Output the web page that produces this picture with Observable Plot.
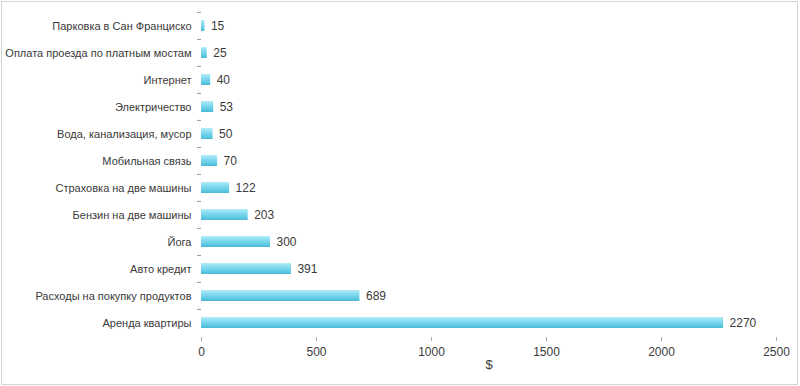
<!DOCTYPE html>
<html>
<head>
<meta charset="utf-8">
<script src="https://cdn.jsdelivr.net/npm/d3@7"></script>
<script src="https://cdn.jsdelivr.net/npm/@observablehq/plot@0.6"></script>
<style>
  html, body { margin: 0; padding: 0; background: #fff; }
  #wrap { position: relative; width: 800px; height: 386px; overflow: hidden; }
  #frame { position: absolute; left: 1px; top: 1px; width: 795px; height: 382px; border: 1px solid #d4d4d4; pointer-events: none; }
</style>
</head>
<body>
<div id="wrap"><div id="frame"></div></div>
<script>
const categories = [
  "Парковка в Сан Франциско",
  "Оплата проезда по платным мостам",
  "Интернет",
  "Электричество",
  "Вода, канализация, мусор",
  "Мобильная связь",
  "Страховка на две машины",
  "Бензин на две машины",
  "Йога",
  "Авто кредит",
  "Расходы на покупку продуктов",
  "Аренда квартиры"
];
const values = [15, 25, 40, 53, 50, 70, 122, 203, 300, 391, 689, 2270];
const xTicks = [0, 500, 1000, 1500, 2000, 2500];
const xLabel = "$";

const data = categories.map((c, i) => ({category: c, value: values[i]}));

const defs = () => {
  const d = d3.create("svg:defs");
  const g = d.append("linearGradient").attr("id", "barGrad").attr("x1", 0).attr("y1", 0).attr("x2", 0).attr("y2", 1);
  g.append("stop").attr("offset", "0%").attr("stop-color", "#b4ecf8");
  g.append("stop").attr("offset", "35%").attr("stop-color", "#86dcf0");
  g.append("stop").attr("offset", "80%").attr("stop-color", "#5cc8e3");
  g.append("stop").attr("offset", "100%").attr("stop-color", "#4ab6d3");
  const f = d.append("filter").attr("id", "shadow").attr("x", "-5%").attr("y", "-30%").attr("width", "110%").attr("height", "170%");
  f.append("feDropShadow").attr("dx", 0).attr("dy", 1).attr("stdDeviation", 0.8).attr("flood-color", "#000").attr("flood-opacity", 0.25);
  return d.node();
};

const chart = Plot.plot({
  width: 800,
  height: 386,
  marginLeft: 201,
  marginRight: 24,
  marginTop: 11,
  marginBottom: 49,
  style: { fontFamily: "'Liberation Sans', Arial, sans-serif", fontSize: "12px", color: "#333", background: "transparent" },
  x: { domain: [0, 2500], ticks: xTicks, label: null },
  y: { domain: categories, padding: 0, label: null },
  marks: [
    defs,
    Plot.axisY({ tickSize: 0, tickPadding: 10, fontSize: 11, fill: "#3a3a3a" }),
    Plot.axisY({ tickSize: 4, tickFormat: () => "", dy: -13.6, stroke: "#999" }),
    Plot.ruleX([0], { y1: categories[0], y2: categories[categories.length - 1], insetTop: -13.6, insetBottom: -13.6, stroke: "#aaa" }),
    Plot.barX(data, { x: "value", y: "category", insetTop: 8, insetBottom: 8, fill: "url(#barGrad)", style: "filter:url(#shadow)" }),
    Plot.text(data, { x: "value", y: "category", text: d => String(d.value), textAnchor: "start", dx: 6, fontSize: 12, fill: "#3a3a3a" }),
    Plot.ruleY([0], { frameAnchor: "bottom", stroke: "#aaa" }),
    Plot.axisX({ ticks: xTicks, tickSize: 4, tickPadding: 6, stroke: "#aaa", fill: "#3a3a3a", fontSize: 12, label: null, tickFormat: d => String(d) }),
    Plot.text([xLabel], { frameAnchor: "bottom", dy: 31, fontSize: 13, fill: "#3a3a3a" })
  ]
});
document.getElementById("wrap").prepend(chart);
</script>
</body>
</html>
